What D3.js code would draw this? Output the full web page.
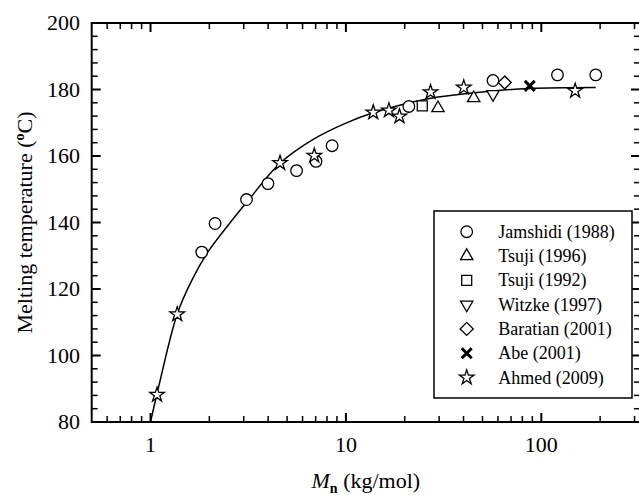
<!DOCTYPE html>
<html>
<head>
<meta charset="utf-8">
<script src="https://cdn.jsdelivr.net/npm/d3@7"></script>
</head>
<body style="margin:0">
<script>
// data: [Mn (kg/mol), Tm (degC)]
const jamshidi = [[1.83, 131.1], [2.14, 139.7], [3.10, 146.9], [3.99, 151.7], [5.59, 155.6], [7.03, 158.4], [8.50, 163.1], [21.0, 174.9], [56.6, 182.7], [121, 184.4], [190, 184.4]];
const tsuji1996 = [[29.6, 174.4], [45.1, 177.4]];
const tsuji1992 = [[24.6, 175.1]];
const witzke = [[56.6, 178.6]];
const baratian = [[65.0, 182.1]];
const abe = [[87.3, 181.1]];
const ahmed = [[1.08, 88.2], [1.37, 112.4], [4.60, 157.9], [6.89, 160.1], [13.8, 173.1], [16.6, 173.7], [18.8, 171.9], [27.1, 179.2], [40.1, 180.6], [149, 179.6]];
// fitted curve
const fitCurve = [[1.0, 80], [1.08, 88.5], [1.37, 112.5], [1.64, 123], [1.96, 131], [2.52, 139.5], [3.10, 146.0], [4.6, 157.8], [6.9, 165.2], [10, 169.9], [13.8, 173.0], [26.8, 177.3], [48.4, 179.2], [87.3, 180.3], [190, 180.6]];

const seriesNames = ['Jamshidi (1988)', 'Tsuji (1996)', 'Tsuji (1992)', 'Witzke (1997)', 'Baratian (2001)', 'Abe (2001)', 'Ahmed (2009)'];
const seriesData = [jamshidi, tsuji1996, tsuji1992, witzke, baratian, abe, ahmed];
const seriesShapes = ['circle', 'triangle', 'square', 'triangleDown', 'diamond', 'cross', 'star'];

const xMajor = [1, 10, 100];
const xMinor = [0.6, 0.7, 0.8, 0.9, 2, 3, 4, 5, 6, 7, 8, 9, 20, 30, 40, 50, 60, 70, 80, 90, 200, 300];
const yMajor = [80, 100, 120, 140, 160, 180, 200];
const yMinor = d3.range(80, 201, 4).filter(v => v % 20 !== 0);

const width = 639, height = 495;
const plotLeft = 91.7, plotRight = 640, plotTop = 23, plotBottom = 422;
const fontName = 'Liberation Serif';

const svg = d3.select('body').append('svg')
  .attr('width', width)
  .attr('height', height);

const x = d3.scaleLog().domain([0.5, 320]).range([plotLeft, plotRight]);
const y = d3.scaleLinear().domain([80, 200]).range([plotBottom, plotTop]);

// frame
svg.append('rect')
  .attr('x', plotLeft).attr('y', plotTop)
  .attr('width', plotRight - plotLeft).attr('height', plotBottom - plotTop)
  .attr('fill', 'none').attr('stroke', '#000').attr('stroke-width', 2);

const ticks = svg.append('g').attr('stroke', '#000');

function xTicks(vals, len, sw) {
  vals.forEach(v => {
    ticks.append('line').attr('x1', x(v)).attr('x2', x(v)).attr('y1', plotBottom).attr('y2', plotBottom - len).attr('stroke-width', sw);
    ticks.append('line').attr('x1', x(v)).attr('x2', x(v)).attr('y1', plotTop).attr('y2', plotTop + len).attr('stroke-width', sw);
  });
}
function yTicks(vals, len, sw) {
  vals.forEach(v => {
    ticks.append('line').attr('x1', plotLeft).attr('x2', plotLeft + len).attr('y1', y(v)).attr('y2', y(v)).attr('stroke-width', sw);
    ticks.append('line').attr('x1', plotRight).attr('x2', plotRight - len).attr('y1', y(v)).attr('y2', y(v)).attr('stroke-width', sw);
  });
}
xTicks(xMajor, 9, 2);
xTicks(xMinor, 6, 1.5);
yTicks(yMajor, 9, 2);
yTicks(yMinor, 6, 1.5);

svg.append('g').selectAll('text')
  .data(xMajor)
  .join('text')
    .attr('x', d => x(d))
    .attr('y', 452)
    .attr('text-anchor', 'middle')
    .attr('font-size', 22)
    .style('font-family', () => `"${fontName}"`)
    .text(d => d);

svg.append('g').selectAll('text')
  .data(yMajor)
  .join('text')
    .attr('x', 80)
    .attr('y', d => y(d) + 7)
    .attr('text-anchor', 'end')
    .attr('font-size', 22)
    .style('font-family', () => `"${fontName}"`)
    .text(d => d);

// axis titles
const xt = svg.append('text')
  .attr('x', (plotLeft + plotRight) / 2)
  .attr('y', 488)
  .attr('text-anchor', 'middle')
  .attr('font-size', 22)
  .style('font-family', `"${fontName}"`);
xt.append('tspan').attr('font-style', 'italic').text('M');
xt.append('tspan').attr('font-weight', 'bold').attr('font-size', 14).attr('dy', 5).text('n');
xt.append('tspan').attr('dy', -5).text(' (kg/mol)');

const yt = svg.append('text')
  .attr('transform', `translate(32, ${(plotTop + plotBottom) / 2}) rotate(-90)`)
  .attr('text-anchor', 'middle')
  .attr('font-size', 22)
  .style('font-family', `"${fontName}"`);
yt.append('tspan').text('Melting temperature (');
yt.append('tspan').attr('font-weight', 'bold').attr('font-size', 14).attr('dy', -8).text('o');
yt.append('tspan').attr('dy', 8).text('C)');

// fitted curve
const line = d3.line()
  .x(d => x(d[0]))
  .y(d => y(d[1]))
  .curve(d3.curveCatmullRom.alpha(0.5));

svg.append('path')
  .datum(fitCurve)
  .attr('d', line)
  .attr('fill', 'none')
  .attr('stroke', '#000')
  .attr('stroke-width', 1.5);

function drawMarker(g, shape) {
  const common = sel => sel.attr('fill', '#fff').attr('stroke', '#000').attr('stroke-width', 1.3);
  if (shape === 'circle') {
    g.append('circle').attr('r', 5.8).call(common);
  } else if (shape === 'triangle') {
    g.append('path').attr('d', d3.symbol(d3.symbolTriangle, 66)()).call(common);
  } else if (shape === 'triangleDown') {
    g.append('path').attr('d', d3.symbol(d3.symbolTriangle, 66)()).attr('transform', 'rotate(180)').call(common);
  } else if (shape === 'square') {
    g.append('path').attr('d', d3.symbol(d3.symbolSquare, 100)()).call(common);
  } else if (shape === 'diamond') {
    g.append('path').attr('d', d3.symbol(d3.symbolSquare, 85)()).attr('transform', 'rotate(45)').call(common);
  } else if (shape === 'star') {
    g.append('path').attr('d', d3.symbol(d3.symbolStar, 66)()).call(common);
  } else if (shape === 'cross') {
    g.append('path').attr('d', 'M-5,-5L5,5M-5,5L5,-5')
      .attr('stroke', '#000').attr('stroke-width', 3).attr('fill', 'none');
  }
}

seriesData.forEach((data, i) => {
  svg.append('g').selectAll('g')
    .data(data)
    .join('g')
      .attr('transform', d => `translate(${x(d[0])},${y(d[1])})`)
      .each(function () { drawMarker(d3.select(this), seriesShapes[i]); });
});

// legend
const legend = svg.append('g');
legend.append('rect')
  .attr('x', 434).attr('y', 211)
  .attr('width', 198).attr('height', 187)
  .attr('fill', '#fff').attr('stroke', '#000').attr('stroke-width', 1.5);

const row = legend.selectAll('g.row')
  .data(seriesNames)
  .join('g')
    .attr('class', 'row')
    .attr('transform', (d, i) => `translate(466.7, ${231.7 + i * 24.3})`);
row.each(function (d, i) { drawMarker(d3.select(this), seriesShapes[i]); });
row.append('text')
  .attr('x', 31.6)
  .attr('y', 6)
  .attr('font-size', 18)
  .style('font-family', `"${fontName}"`)
  .text(d => d);
</script>
</body>
</html>
